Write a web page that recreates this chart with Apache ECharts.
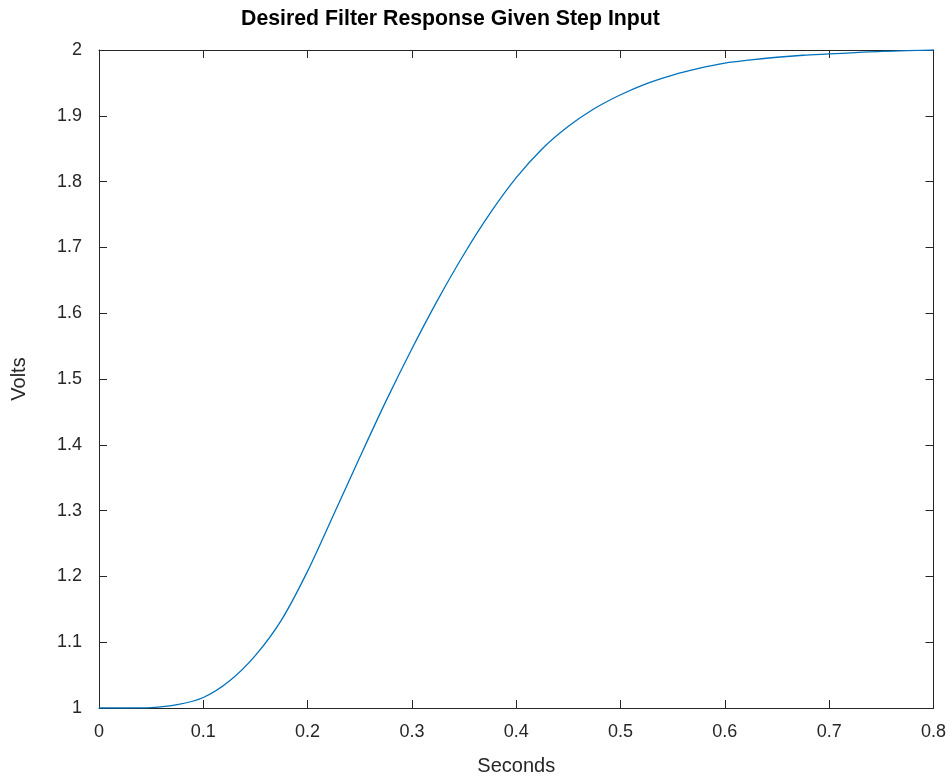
<!DOCTYPE html>
<html>
<head>
<meta charset="utf-8">
<script src="https://cdn.jsdelivr.net/npm/echarts@6/dist/echarts.min.js"></script>
<style>html,body{margin:0;padding:0;background:#fff;overflow:hidden}#c{width:949px;height:781px}</style>
</head>
<body>
<div id="c"></div>
<script>
var titleText = 'Desired Filter Response Given Step Input';
var xLabel = 'Seconds';
var yLabel = 'Volts';
var times = [0, 0.025, 0.05, 0.075, 0.1, 0.125, 0.15, 0.175, 0.2, 0.225, 0.25, 0.275, 0.3, 0.325, 0.35, 0.375, 0.4, 0.425, 0.45, 0.475, 0.5, 0.525, 0.55, 0.575, 0.6, 0.625, 0.65, 0.675, 0.7, 0.725, 0.75, 0.775, 0.8];
var volts = [1, 1.0000, 1.0006, 1.005, 1.016, 1.041, 1.080, 1.134, 1.208, 1.294, 1.381, 1.466, 1.546, 1.621, 1.690, 1.752, 1.806, 1.850, 1.884, 1.911, 1.932, 1.949, 1.962, 1.972, 1.980, 1.985, 1.989, 1.992, 1.994, 1.996, 1.998, 1.999, 2.0];

var data = times.map(function (t, i) { return [t, volts[i]]; });
var axisCol = '#262626';
var font = 'Liberation Sans, Arial, Helvetica, sans-serif';

var chart = echarts.init(document.getElementById('c'), null, {renderer: 'canvas', width: 949, height: 781});
function baseAxis(extra) {
  var a = {
    type: 'value',
    axisLine: {show: true, onZero: false, lineStyle: {color: axisCol, width: 1}},
    axisTick: {show: true, inside: true, length: 8, lineStyle: {color: axisCol}},
    splitLine: {show: false},
    axisLabel: {show: true, color: axisCol, fontSize: 18, fontFamily: font}
  };
  for (var k in extra) a[k] = extra[k];
  return a;
}
chart.setOption({
  animation: false,
  backgroundColor: '#fff',
  title: {
    text: titleText, left: 241, top: 9, padding: 0,
    textStyle: {fontFamily: font, fontWeight: 'bold', fontSize: 21.3, color: '#000'}
  },
  grid: {left: 99, right: 11, top: 50, bottom: 68, containLabel: false},
  xAxis: [
    baseAxis({min: 0, max: 0.8, interval: 0.1, position: 'bottom',
      name: xLabel, nameLocation: 'middle', nameGap: 48,
      nameTextStyle: {fontFamily: font, fontSize: 20, color: axisCol},
      axisLabel: {color: axisCol, fontSize: 18, fontFamily: font, margin: 15,
        formatter: function (v) { return String(+v.toFixed(1)); }}}),
    baseAxis({min: 0, max: 0.8, interval: 0.1, position: 'top', axisLabel: {show: false}})
  ],
  yAxis: [
    baseAxis({min: 1, max: 2, interval: 0.1, position: 'left',
      name: yLabel, nameLocation: 'middle', nameGap: 70, nameRotate: 90,
      nameTextStyle: {fontFamily: font, fontSize: 20, color: axisCol},
      axisLabel: {color: axisCol, fontSize: 18, fontFamily: font, margin: 17,
        formatter: function (v) { return String(+v.toFixed(1)); }}}),
    baseAxis({min: 1, max: 2, interval: 0.1, position: 'right', axisLabel: {show: false}})
  ],
  series: [{
    type: 'line',
    data: data,
    xAxisIndex: 0, yAxisIndex: 0,
    showSymbol: false,
    smooth: 0.3,
    lineStyle: {color: '#0072BD', width: 1.3},
    itemStyle: {color: '#0072BD'}
  }]
});
</script>
</body>
</html>
